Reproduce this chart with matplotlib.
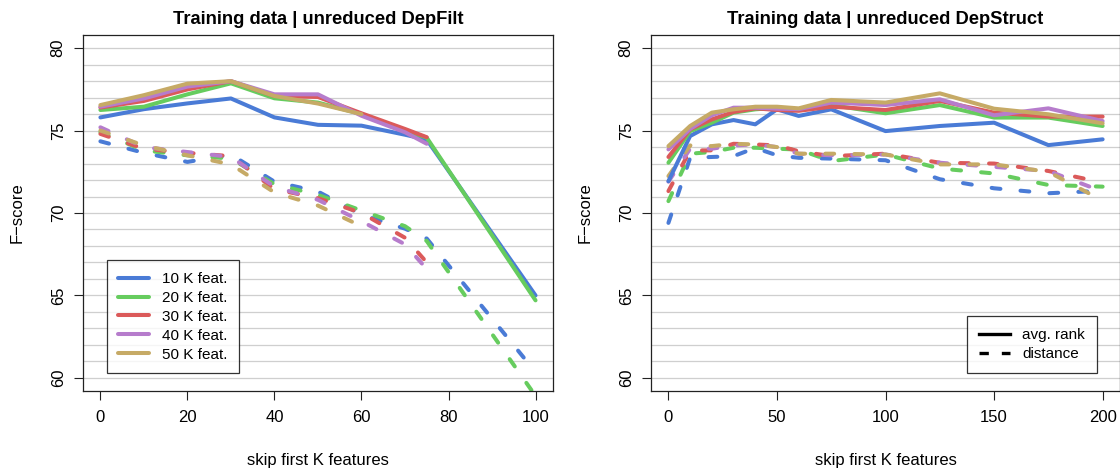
import matplotlib
matplotlib.use("Agg")
import matplotlib.pyplot as plt
import numpy as np
from matplotlib.lines import Line2D

plt.rcParams["font.family"] = ["Liberation Sans", "DejaVu Sans"]

nan = np.nan

# left panel: DepFilt
left_x = [0, 10, 20, 30, 40, 50, 60, 70, 75, 100]
left_rank = {
    "10 K feat.": [75.8, 76.3, 76.65, 76.95, 75.8, 75.35, 75.3, 74.75, 74.45, 65.0],
    "20 K feat.": [76.25, 76.45, 77.2, 77.87, 76.96, 76.7, 76.0, 75.0, 74.57, 64.7],
    "30 K feat.": [76.4, 76.8, 77.5, 78.0, 77.1, 77.04, 76.05, 75.1, 74.6, nan],
    "40 K feat.": [76.45, 76.95, 77.67, 78.0, 77.2, 77.2, 75.9, 74.9, 74.2, nan],
    "50 K feat.": [76.55, 77.15, 77.85, 78.0, 77.1, 76.64, 76.0, nan, nan, nan],
}
left_dist = {
    "10 K feat.": [74.35, 73.65, 73.1, 73.55, 71.9, 71.3, 69.9, 69.05, 68.45, 60.35],
    "20 K feat.": [74.9, 73.8, 73.5, 73.3, 71.75, 71.1, 70.15, 69.2, 68.3, 58.9],
    "30 K feat.": [74.8, 73.9, 73.65, 73.45, 71.45, 70.9, 70.0, 68.5, 67.0, nan],
    "40 K feat.": [75.2, 74.0, 73.7, 73.4, 71.6, 70.8, 69.5, 68.1, 66.6, nan],
    "50 K feat.": [75.0, 74.1, 73.5, 72.95, 71.25, 70.45, 69.2, nan, nan, nan],
}

# right panel: DepStruct
right_x = [0, 10, 20, 30, 40, 50, 60, 75, 100, 125, 150, 175, 200]
right_rank = {
    "10 K feat.": [71.93, 74.67, 75.38, 75.64, 75.38, 76.29, 75.89, 76.29, 74.97, 75.28, 75.48, 74.12, 74.47],
    "20 K feat.": [73.05, 74.97, 75.48, 76.09, 76.29, 76.39, 76.25, 76.55, 76.05, 76.55, 75.79, 75.79, 75.28],
    "30 K feat.": [73.4, 75.08, 75.68, 76.13, 76.35, 76.25, 76.2, 76.45, 76.25, 76.8, 76.09, 75.85, 75.85],
    "40 K feat.": [73.86, 75.1, 75.93, 76.39, 76.39, 76.33, 76.3, 76.7, 76.55, 76.9, 75.93, 76.35, 75.58],
    "50 K feat.": [74.06, 75.28, 76.09, 76.29, 76.45, 76.45, 76.35, 76.86, 76.7, 77.26, 76.33, 75.99, 75.44],
}
right_dist = {
    "10 K feat.": [69.4, 73.35, 73.4, 73.45, 73.95, 73.5, 73.35, 73.3, 73.2, 72.05, 71.5, 71.2, 71.35],
    "20 K feat.": [70.72, 73.6, 73.7, 73.96, 73.96, 73.9, 73.85, 73.15, 73.55, 72.7, 72.4, 71.7, 71.6],
    "30 K feat.": [71.33, 73.8, 73.8, 74.2, 74.16, 74.1, 73.75, 73.45, 73.6, 73.05, 73.0, 72.55, 71.85],
    "40 K feat.": [71.9, 73.9, 73.9, 74.1, 74.16, 74.0, 73.6, 73.5, 73.55, 73.05, 72.8, 72.55, 71.3],
    "50 K feat.": [72.24, 74.1, 74.06, 74.2, 74.16, 74.0, 73.6, 73.6, 73.55, 72.95, 72.95, 72.5, 70.75],
}

colors = ["#4a7bd6", "#66cc5e", "#db5a5a", "#b67ccc", "#c6aa66"]
dash = (0, (2.2, 5.0))
lw = 2.9

fig = plt.figure(figsize=(11.2, 4.68), dpi=100)
ax1 = fig.add_axes([0.0741, 0.1645, 0.4196, 0.7607])
ax2 = fig.add_axes([0.5813, 0.1645, 0.4187, 0.7607])


def draw(ax, x, rank, dist, title, xlim, xticks):
    for yy in range(60, 81):
        ax.axhline(yy, color="#cfcfcf", lw=0.9, zorder=0)
    for (name, vals), c in zip(dist.items(), colors):
        ax.plot(x, vals, color=c, lw=lw, linestyle=dash,
                dash_capstyle="round", zorder=2)
    for (name, vals), c in zip(rank.items(), colors):
        ax.plot(x, vals, color=c, lw=lw, solid_capstyle="round",
                solid_joinstyle="round", label=name, zorder=3)
    ax.set_xlim(xlim)
    ax.set_ylim(59.2, 80.8)
    ax.set_xticks(xticks)
    ax.set_yticks([60, 65, 70, 75, 80])
    ax.tick_params(direction="out", length=6.5, width=0.8, labelsize=12,
                   color="#222222")
    ax.tick_params(axis="x", pad=7)
    ax.tick_params(axis="y", pad=6)
    for lab in ax.get_yticklabels():
        lab.set_rotation(90)
        lab.set_va("center")
    for s in ax.spines.values():
        s.set_linewidth(0.9)
        s.set_color("#222222")
    ax.set_title(title, fontsize=13.2, fontweight="bold", pad=8)
    ax.set_xlabel("skip first K features", fontsize=12, va="center")
    ax.set_ylabel("F\u2212score", fontsize=12, va="center")
    ax.xaxis.set_label_coords(0.5, -0.194)
    ax.yaxis.set_label_coords(-0.1404, 0.5)


draw(ax1, left_x, left_rank, left_dist, "Training data | unreduced DepFilt",
     (-4, 104), [0, 20, 40, 60, 80, 100])
draw(ax2, right_x, right_rank, right_dist, "Training data | unreduced DepStruct",
     (-8, 208), [0, 50, 100, 150, 200])

leg1 = ax1.legend(loc="lower left", bbox_to_anchor=(0.0504, 0.0497),
                  fontsize=11, frameon=True, fancybox=False, edgecolor="black",
                  handlelength=2.0, handletextpad=0.82, labelspacing=0.32,
                  borderpad=0.77, borderaxespad=0)
leg1.get_frame().set_linewidth(0.9)

handles = [Line2D([], [], color="black", lw=2.4),
           Line2D([], [], color="black", lw=2.4, linestyle=(0, (2.8, 3.9)))]
leg2 = ax2.legend(handles, ["avg. rank", "distance"], loc="lower right",
                  bbox_to_anchor=(0.9516, 0.0497), fontsize=11, frameon=True,
                  fancybox=False, edgecolor="black", handlelength=2.0,
                  handletextpad=0.82, labelspacing=0.32, borderpad=0.8,
                  borderaxespad=0)
leg2.get_frame().set_linewidth(0.9)

fig.savefig("out.png", dpi=100)
